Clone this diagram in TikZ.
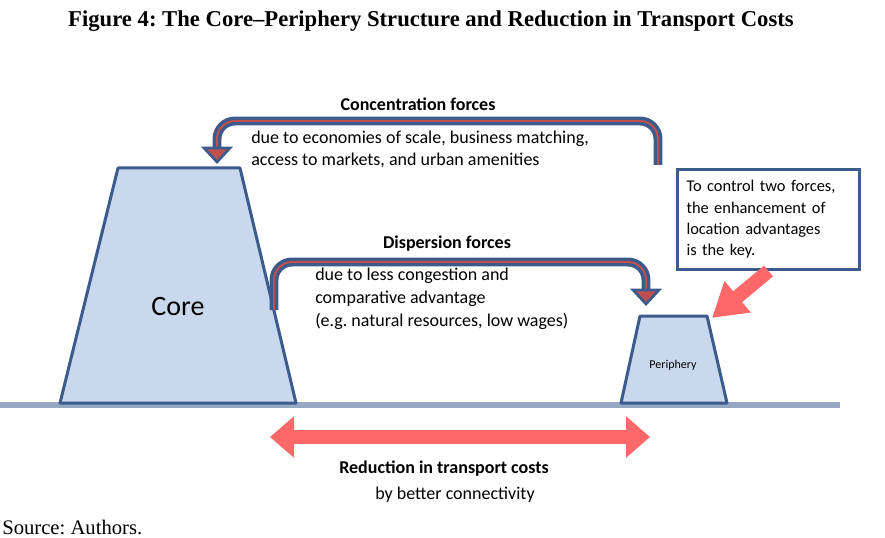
\documentclass[tikz,border=0pt]{standalone}
\usepackage[rgb]{xcolor}
\usepackage{fontspec}
\setmainfont{Liberation Serif}
\newfontfamily\calibri{Carlito}
\usepackage{tikz}
\usetikzlibrary{arrows.meta}
\frenchspacing

\definecolor{shapeblue}{HTML}{3B5B8C}
\definecolor{shapefill}{HTML}{C9D8EC}
\definecolor{groundblue}{HTML}{94A8C2}
\definecolor{flowred}{HTML}{C0504D}
\definecolor{fatred}{HTML}{FF6868}

\tikzset{
  txt/.style={font=\calibri\fontsize{13.5}{16}\selectfont, inner sep=0pt},
  boldtxt/.style={font=\calibri\bfseries\fontsize{13.5}{16}\selectfont, inner sep=0pt},
  mound/.style={draw=shapeblue, fill=shapefill, line width=2.25pt, line join=round},
  flowline/.style={draw=shapeblue, line width=2.6pt, double=flowred, double distance=1.5pt, rounded corners=13.5pt},
  flowhead/.style={draw=shapeblue, fill=flowred, line width=2pt, line join=miter},
  fatarrow/.style={draw=fatred, line width=10.5pt}
}

\begin{document}
\begin{tikzpicture}[x=0.75pt, y=-0.75pt]
\useasboundingbox (0,0) rectangle (885,538);

% title and source
\node[anchor=base, inner sep=0pt, font=\bfseries\fontsize{17}{20}\selectfont] (title) at (431,27)
{Figure 4: The Core--Periphery Structure and Reduction in Transport Costs};
\node[anchor=base west, inner sep=0pt, font=\fontsize{15.5}{18}\selectfont] (source) at (2,534) {Source: Authors.};

% ground line
\draw[groundblue, line width=4.5pt] (0,405) -- (840,405);

% core and periphery mounds
\filldraw[mound] (60,403) -- (296,403) -- (240,168) -- (118,168) -- cycle;
\node[font=\calibri\fontsize{21}{24}\selectfont] (core) at (178,307) {Core};

\filldraw[mound] (621,403) -- (727,403) -- (707,316) -- (640,316) -- cycle;
\coordinate (ptop) at (712,318);
\node[font=\calibri\fontsize{9}{10}\selectfont] (periph) at (673,365) {Periphery};

% concentration forces: periphery -> core
\coordinate (cstart) at (658,165);
\coordinate (cend) at (217,148);
\coordinate (ctip) at (217,162);
\draw[flowline] (cstart) -- (658,121) -- (217,121) -- (cend);
\filldraw[flowhead] (cend) ++(-13,0) -- ++(26,0) -- (ctip) -- cycle;
\node[boldtxt] (conc) at (418,104) {Concentration forces};
\node[txt, anchor=north west, align=left] (conctxt) at (251,131)
{due to economies of scale, business matching,\\
access to markets, and urban amenities};

% dispersion forces: core -> periphery
\coordinate (dstart) at (274,310);
\coordinate (dend) at (646,290);
\coordinate (dtip) at (646,304);
\draw[flowline] (dstart) -- (274,262) -- (646,262) -- (dend);
\filldraw[flowhead] (dend) ++(-13,0) -- ++(26,0) -- (dtip) -- cycle;
\node[boldtxt] (disp) at (447,244) {Dispersion forces};
\node[txt, anchor=north west, align=left, font=\calibri\fontsize{13.5}{17.25}\selectfont] (disptxt) at (315,268)
{due to less congestion and\\
comparative advantage\\
(e.g. natural resources, low wages)};

% key message box
\node[txt, draw=shapeblue, line width=2.25pt, fill=white, anchor=north west,
      minimum width=136.5pt, minimum height=75pt, text width=123pt,
      inner xsep=6.75pt, align=left, font=\calibri\fontsize{12.3}{16}\selectfont] (key) at (676,168)
{To control two forces,\\
the enhancement of\\
location advantages\\
is the key.};
\draw[fatarrow, -{Triangle[length=25pt, width=29pt]}] (key.south) -- (ptop);

% transport costs
\coordinate (lend) at (270,437);
\coordinate (rend) at (650,437);
\draw[fatarrow, {Triangle[length=18pt, width=30pt]}-{Triangle[length=18pt, width=30pt]}] (lend) -- (rend);
\node[boldtxt] (reduc) at (444,469) {Reduction in transport costs};
\node[txt] (conn) at (455,495) {by better connectivity};

\end{tikzpicture}
\end{document}
